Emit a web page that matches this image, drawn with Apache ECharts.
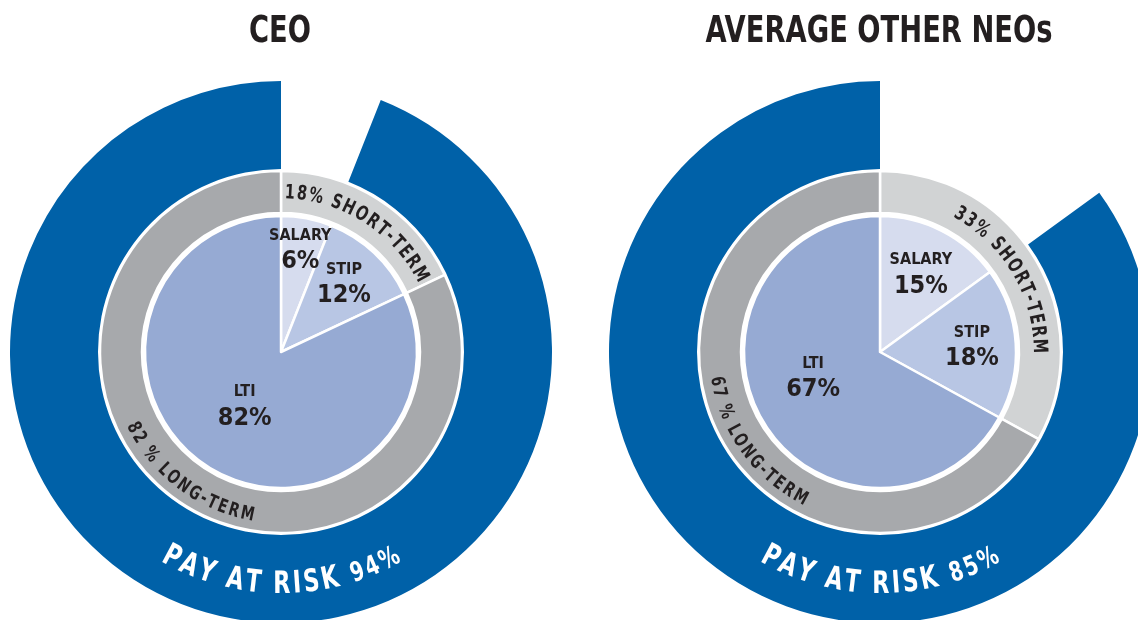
<!DOCTYPE html>
<html>
<head>
<meta charset="utf-8">
<script src="https://cdn.jsdelivr.net/npm/echarts@6/dist/echarts.min.js"></script>
<style>
html, body { margin: 0; background: #fff; }
#main { width: 1138px; height: 620px; }
</style>
</head>
<body>
<div id="main"></div>
<script>
// data
var chartTitles = ['CEO', 'AVERAGE OTHER NEOs'];
var payNames = ['SALARY', 'STIP', 'LTI'];
var ceoPay = [6, 12, 82];
var neoPay = [15, 18, 67];
var termNames = ['SHORT-TERM', 'LONG-TERM'];
var ceoTerm = [18, 82];
var neoTerm = [33, 67];
var riskLabel = 'PAY AT RISK';
var ceoRisk = 94;
var neoRisk = 85;

// look
var FONT = '"Liberation Sans Narrow", "DejaVu Sans Condensed", "Arial Narrow", sans-serif';
var SQUEEZE = 0.8; // the only narrow face here is DejaVu Condensed, still too wide
var TEXT = '#231f20';
var payColors = ['#d6dcee', '#b8c6e4', '#96aad3'];
var termColors = ['#d1d3d4', '#a7a9ac'];
var riskColor = '#0061a8';
var centers = [[281, 352], [880, 352]];
var pieLabelR = [[103, 92, 66], [87, 92, 72]];
var pieLabelTurn = [[0, 0, 1], [1, 1, 9]];
var longTermTurn = [4.5, -5.5];

function midAngle(values, idx) {
    var total = 0, before = 0;
    values.forEach(function (v, i) { total += v; if (i < idx) before += v; });
    return 360 * (before + values[idx] / 2) / total;
}

function textStyle(t, size, color) {
    return {
        text: t, fill: color,
        fontSize: size, fontWeight: 'bold', fontFamily: FONT,
        textAlign: 'center', textVerticalAlign: 'middle',
        align: 'center', verticalAlign: 'middle'
    };
}

// text bent along a circle, one glyph at a time
function arcText(segs, cx, cy, r, midDeg, inward, color, spacing) {
    var ctx = document.createElement('canvas').getContext('2d');
    var chars = [];
    var maxSize = 0;
    segs.forEach(function (s) { maxSize = Math.max(maxSize, s.size); });
    segs.forEach(function (s) {
        ctx.font = 'bold ' + s.size + 'px ' + FONT;
        s.text.split('').forEach(function (ch) {
            chars.push({ ch: ch, size: s.size, w: ctx.measureText(ch).width * SQUEEZE });
        });
    });
    var total = 0;
    chars.forEach(function (c, i) { total += c.w + (i ? spacing : 0); });
    var dir = inward ? -1 : 1;
    var a = midDeg * Math.PI / 180 - dir * total / r / 2;
    return chars.map(function (c) {
        var ang = a + dir * c.w / 2 / r;
        a += dir * (c.w + spacing) / r;
        var rr = r + (inward ? 1 : -1) * 0.35 * (maxSize - c.size);
        return {
            type: 'text',
            z: 100,
            x: cx + rr * Math.sin(ang),
            y: cy - rr * Math.cos(ang),
            rotation: inward ? Math.PI - ang : -ang,
            scaleX: SQUEEZE,
            silent: true,
            style: textStyle(c.ch, c.size, color)
        };
    });
}

function buildSeries(i, pay, term, risk) {
    var c = centers[i];
    var payData = payNames.map(function (n, k) {
        return { name: n, value: pay[k], itemStyle: { color: payColors[k] } };
    });
    var termData = termNames.map(function (n, k) {
        return { name: n, value: term[k], itemStyle: { color: termColors[k] } };
    });
    return [{
        type: 'pie',
        center: c,
        radius: [0, 136],
        startAngle: 90,
        silent: true,
        itemStyle: { borderColor: '#fff', borderWidth: 2.5 },
        label: {
            show: true,
            position: 'inside',
            formatter: '{n|{b}}\n{v|{c}%}',
            rich: {
                n: { fontSize: 16, fontWeight: 'bold', fontFamily: FONT, color: TEXT, lineHeight: 22 },
                v: { fontSize: 25, fontWeight: 'bold', fontFamily: FONT, color: TEXT, lineHeight: 30 }
            }
        },
        labelLayout: function (p) {
            var a = (midAngle(pay, p.dataIndex) + pieLabelTurn[i][p.dataIndex]) * Math.PI / 180;
            var r = pieLabelR[i][p.dataIndex];
            return {
                x: c[0] + r * Math.sin(a),
                y: c[1] - r * Math.cos(a),
                align: 'center',
                verticalAlign: 'middle'
            };
        },
        data: payData
    }, {
        type: 'pie',
        center: c,
        radius: [139, 181],
        startAngle: 90,
        silent: true,
        itemStyle: { borderColor: '#fff', borderWidth: 2.5 },
        label: { show: false },
        data: termData
    }, {
        type: 'pie',
        center: c,
        radius: [183, 271],
        startAngle: 90,
        silent: true,
        label: { show: false },
        data: [
            { name: 'base', value: 100 - risk, itemStyle: { color: 'rgba(0,0,0,0)' } },
            { name: riskLabel, value: risk, itemStyle: { color: riskColor } }
        ]
    }];
}

function buildText(i, term, risk) {
    var c = centers[i];
    var out = [{
        type: 'text',
        z: 100,
        x: c[0] - 1,
        y: 32,
        scaleX: SQUEEZE,
        silent: true,
        style: textStyle(chartTitles[i], 38, TEXT)
    }];
    out = out.concat(arcText([{ text: term[0] + '% ' + termNames[0], size: 20 }],
        c[0], c[1], 159, midAngle(term, 0), false, TEXT, 2));
    out = out.concat(arcText([{ text: term[1] + ' % ' + termNames[1], size: 19 }],
        c[0], c[1], 166, midAngle(term, 1) + longTermTurn[i], true, TEXT, 2));
    out = out.concat(arcText([{ text: riskLabel + ' ', size: 31 }, { text: risk + '%', size: 27 }],
        c[0], c[1], 233, 180, true, '#fff', 2.4));
    return out;
}

var myChart = echarts.init(document.getElementById('main'));

var option = {
    animation: false,
    backgroundColor: '#fff',
    series: buildSeries(0, ceoPay, ceoTerm, ceoRisk).concat(buildSeries(1, neoPay, neoTerm, neoRisk)),
    graphic: { elements: buildText(0, ceoTerm, ceoRisk).concat(buildText(1, neoTerm, neoRisk)) }
};

myChart.setOption(option);
</script>
</body>
</html>
